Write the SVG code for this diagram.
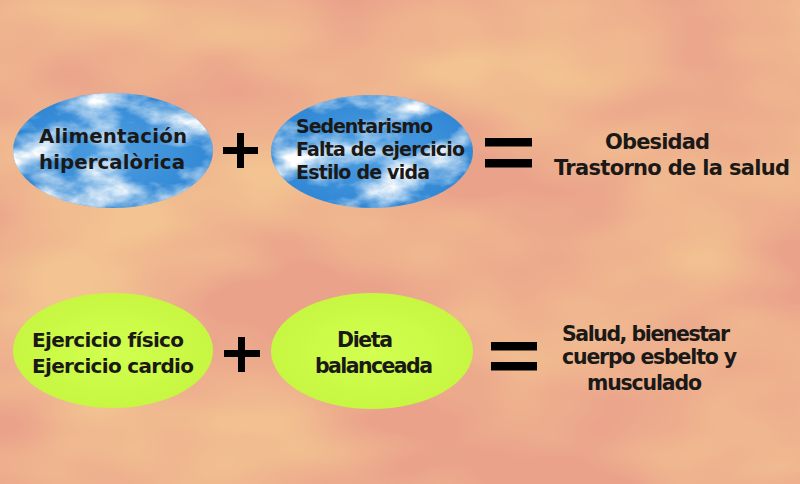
<svg xmlns="http://www.w3.org/2000/svg" width="800" height="484" viewBox="0 0 800 484">
  <defs>
    <filter id="bgClouds" x="0" y="0" width="100%" height="100%" filterUnits="userSpaceOnUse" color-interpolation-filters="sRGB">
      <feTurbulence type="fractalNoise" baseFrequency="0.004 0.008" numOctaves="3" seed="7" result="n"/>
      <feColorMatrix in="n" type="matrix" values="0 0 0 0 0.953  0 0 0 0 0.77  0 0 0 0 0.57  2.4 0 0 0 -0.8"/>
    </filter>
    <filter id="skyClouds" x="0" y="0" width="100%" height="100%" color-interpolation-filters="sRGB">
      <feTurbulence type="fractalNoise" baseFrequency="0.016 0.028" numOctaves="5" seed="11" result="n"/>
      <feColorMatrix in="n" type="matrix" values="0 0 0 0 1  0 0 0 0 1  0 0 0 0 1  2.6 0 0 0 -1.05" result="w"/>
      <feComposite in="w" in2="SourceGraphic" operator="in"/>
    </filter>
    <radialGradient id="sky" cx="50%" cy="50%" r="60%">
      <stop offset="0" stop-color="#4f9fe2"/>
      <stop offset="1" stop-color="#2b83d2"/>
    </radialGradient>
    <radialGradient id="lime" cx="50%" cy="50%" r="60%">
      <stop offset="0" stop-color="#d2ff50"/>
      <stop offset="1" stop-color="#c4f53e"/>
    </radialGradient>
  </defs>
  <style>
    .t { font-family: "DejaVu Sans", "Liberation Sans", sans-serif; font-weight: bold; fill: #1b1917; }
    .op { fill: #000000; }
    .skyE { fill: url(#sky); }
    .limeE { fill: url(#lime); }
  </style>

  <!-- background -->
  <rect x="0" y="0" width="800" height="484" fill="#eaa28b"/>
  <rect x="0" y="0" width="800" height="484" fill="#fff" filter="url(#bgClouds)"/>

  <!-- top row -->
  <g id="node-alimentacion">
    <ellipse class="skyE" cx="113" cy="150.5" rx="100" ry="57.5"/>
    <ellipse cx="113" cy="150.5" rx="100" ry="57.5" fill="#fff" filter="url(#skyClouds)"/>
    <text class="t" font-size="19.8" x="39" y="143" textLength="148">Alimentación</text>
    <text class="t" font-size="19.8" x="39" y="169" textLength="146">hipercalòrica</text>
  </g>

  <g id="node-sedentarismo">
    <ellipse class="skyE" cx="372" cy="151.5" rx="101" ry="56.5"/>
    <ellipse cx="372" cy="151.5" rx="101" ry="56.5" fill="#fff" filter="url(#skyClouds)"/>
    <text class="t" font-size="19" x="296" y="133" textLength="137">Sedentarismo</text>
    <text class="t" font-size="19" x="296" y="156" textLength="169">Falta de ejercicio</text>
    <text class="t" font-size="19" x="296" y="179" textLength="134">Estilo de vida</text>
  </g>

  <g id="node-obesidad">
    <text class="t" font-size="21" x="605" y="149" textLength="105">Obesidad</text>
    <text class="t" font-size="21" x="554" y="175" textLength="236">Trastorno de la salud</text>
  </g>

  <!-- bottom row -->
  <g id="node-ejercicio">
    <ellipse class="limeE" cx="113" cy="350.5" rx="100" ry="57.5"/>
    <text class="t" font-size="20" x="32" y="347" textLength="152">Ejercicio físico</text>
    <text class="t" font-size="20" x="32" y="373" textLength="162">Ejercicio cardio</text>
  </g>

  <g id="node-dieta">
    <ellipse class="limeE" cx="372" cy="351" rx="101" ry="58"/>
    <text class="t" font-size="20.5" x="337" y="347" textLength="56">Dieta</text>
    <text class="t" font-size="20.5" x="315" y="373" textLength="118">balanceada</text>
  </g>

  <g id="node-salud">
    <text class="t" font-size="20.5" x="562" y="341" textLength="168">Salud, bienestar</text>
    <text class="t" font-size="20.5" x="562" y="364" textLength="175">cuerpo esbelto y</text>
    <text class="t" font-size="20.5" x="587" y="390" textLength="115">musculado</text>
  </g>

  <!-- operators -->
  <g id="connectors">
    <g id="plus-top" class="op">
      <rect x="223" y="147" width="35" height="7"/>
      <rect x="237" y="133" width="7" height="35"/>
    </g>
    <g id="equals-top" class="op">
      <rect x="485" y="138" width="47" height="8.5"/>
      <rect x="485" y="159" width="47" height="8.5"/>
    </g>
    <g id="plus-bottom" class="op">
      <rect x="224" y="350" width="36" height="7"/>
      <rect x="238" y="337" width="7" height="35"/>
    </g>
    <g id="equals-bottom" class="op">
      <rect x="491" y="342" width="46" height="8.5"/>
      <rect x="491" y="362" width="46" height="8.5"/>
    </g>
  </g>
</svg>
